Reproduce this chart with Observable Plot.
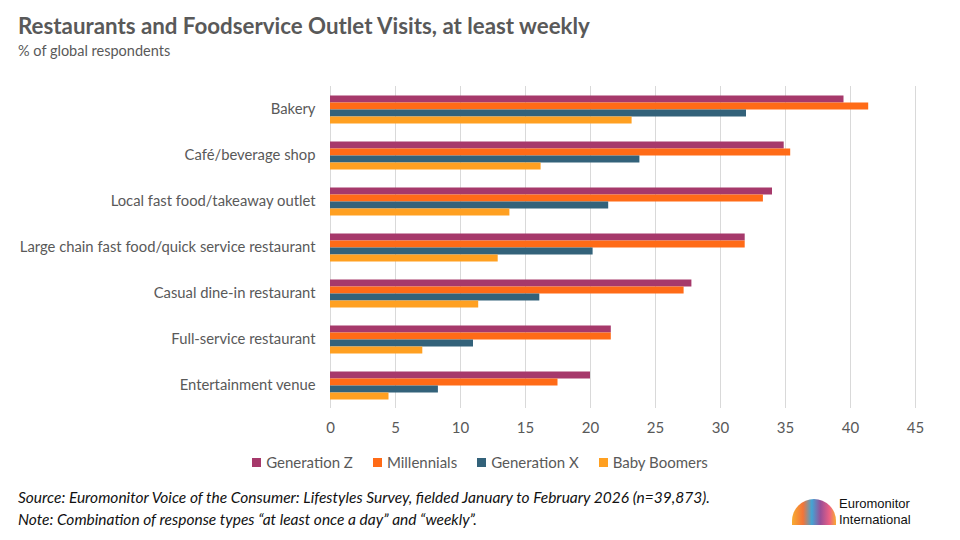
<!DOCTYPE html>
<html>
<head>
<meta charset="utf-8">
<script src="https://cdn.jsdelivr.net/npm/d3@7"></script>
<script src="https://cdn.jsdelivr.net/npm/@observablehq/plot@0.6"></script>
<style>
  body { margin: 0; background: #fff; width: 960px; height: 540px; overflow: hidden; font-family: Lato, "Open Sans", sans-serif; }
  #header { height: 62px; position: relative; }
  #title { position: absolute; left: 18px; top: 12px; font-size: 22.3px; font-weight: bold; color: #595959; white-space: nowrap; }
  #subtitle { position: absolute; left: 18px; top: 42px; font-size: 14.5px; color: #595959; white-space: nowrap; }
  #chart svg { display: block; }
  #legend { display: flex; justify-content: center; gap: 20px; margin-top: 8px; font-size: 15px; color: #595959; padding-left: 0px; }
  #legend .item { display: flex; align-items: center; gap: 5px; }
  #legend .sw { width: 9px; height: 9px; display: inline-block; }
  #caption { position: absolute; left: 18px; top: 486px; font-size: 15.5px; font-style: italic; color: #111; line-height: 22px; }
  #logo { position: absolute; left: 792px; top: 496px; display: flex; align-items: center; gap: 3px; }
  #logo .mark { width: 44px; height: 26px; border-radius: 30px 30px 0 0; background: linear-gradient(90deg, #f7a21b 0%, #f26522 25%, #2e9ad0 45%, #8e3b8b 65%, #e94e77 85%, #f7a21b 100%); opacity: 0.9; }
  #logo .txt { font-family: "Liberation Sans", Arial, sans-serif; font-size: 13px; line-height: 16px; color: #111; }
</style>
</head>
<body>
<div id="header">
  <div id="title">Restaurants and Foodservice Outlet Visits, at least weekly</div>
  <div id="subtitle">% of global respondents</div>
</div>
<div id="chart"></div>
<div id="legend"></div>
<div id="caption">Source: Euromonitor Voice of the Consumer: Lifestyles Survey, fielded January to February 2026 (n=39,873).<br>Note: Combination of response types “at least once a day” and “weekly”.</div>
<div id="logo"><div class="mark"></div><div class="txt">Euromonitor<br>International</div></div>
<script>
const categories = [
  "Bakery",
  "Café/beverage shop",
  "Local fast food/takeaway outlet",
  "Large chain fast food/quick service restaurant",
  "Casual dine-in restaurant",
  "Full-service restaurant",
  "Entertainment venue"
];
const generations = ["Generation Z", "Millennials", "Generation X", "Baby Boomers"];
const colors = ["#A6396B", "#FF6B17", "#33627A", "#FFA021"];
const genZ        = [39.5, 34.9, 34.0, 31.9, 27.8, 21.6, 20.0];
const millennials = [41.4, 35.4, 33.3, 31.9, 27.2, 21.6, 17.5];
const genX        = [32.0, 23.8, 21.4, 20.2, 16.1, 11.0, 8.3];
const boomers     = [23.2, 16.2, 13.8, 12.9, 11.4, 7.1, 4.5];
const xTicks = [0, 5, 10, 15, 20, 25, 30, 35, 40, 45];

const series = [genZ, millennials, genX, boomers];
const data = [];
categories.forEach((c, i) => {
  generations.forEach((g, j) => {
    data.push({category: c, generation: g, value: series[j][i]});
  });
});

const chart = Plot.plot({
  width: 960,
  height: 383,
  marginLeft: 330,
  marginRight: 45,
  marginTop: 20.5,
  marginBottom: 34,
  style: {fontFamily: "Lato, 'Open Sans', sans-serif", fontSize: "14.8px", color: "#595959", background: "#fff"},
  x: {domain: [0, 45], label: null},
  fy: {domain: categories, padding: 0, label: null},
  y: {domain: generations, paddingInner: 0, paddingOuter: 0.92, axis: null},
  color: {domain: generations, range: colors},
  marks: [
    Plot.gridX(xTicks, {stroke: "#d9d9d9", strokeOpacity: 1, strokeWidth: 1}),
    Plot.barX(data, {x: "value", y: "generation", fy: "category", fill: "generation"}),
    Plot.axisX(xTicks, {tickSize: 0, tickPadding: 14, fontSize: 15, fill: "#595959", label: null}),
    Plot.axisFy({anchor: "left", tickSize: 0, tickPadding: 15, fontSize: 14.8, fill: "#595959", label: null})
  ]
});
document.getElementById("chart").appendChild(chart);

const legend = document.getElementById("legend");
generations.forEach((g, j) => {
  const item = document.createElement("div");
  item.className = "item";
  const sw = document.createElement("span");
  sw.className = "sw";
  sw.style.background = colors[j];
  const t = document.createElement("span");
  t.textContent = g;
  item.appendChild(sw);
  item.appendChild(t);
  legend.appendChild(item);
});
</script>
</body>
</html>
